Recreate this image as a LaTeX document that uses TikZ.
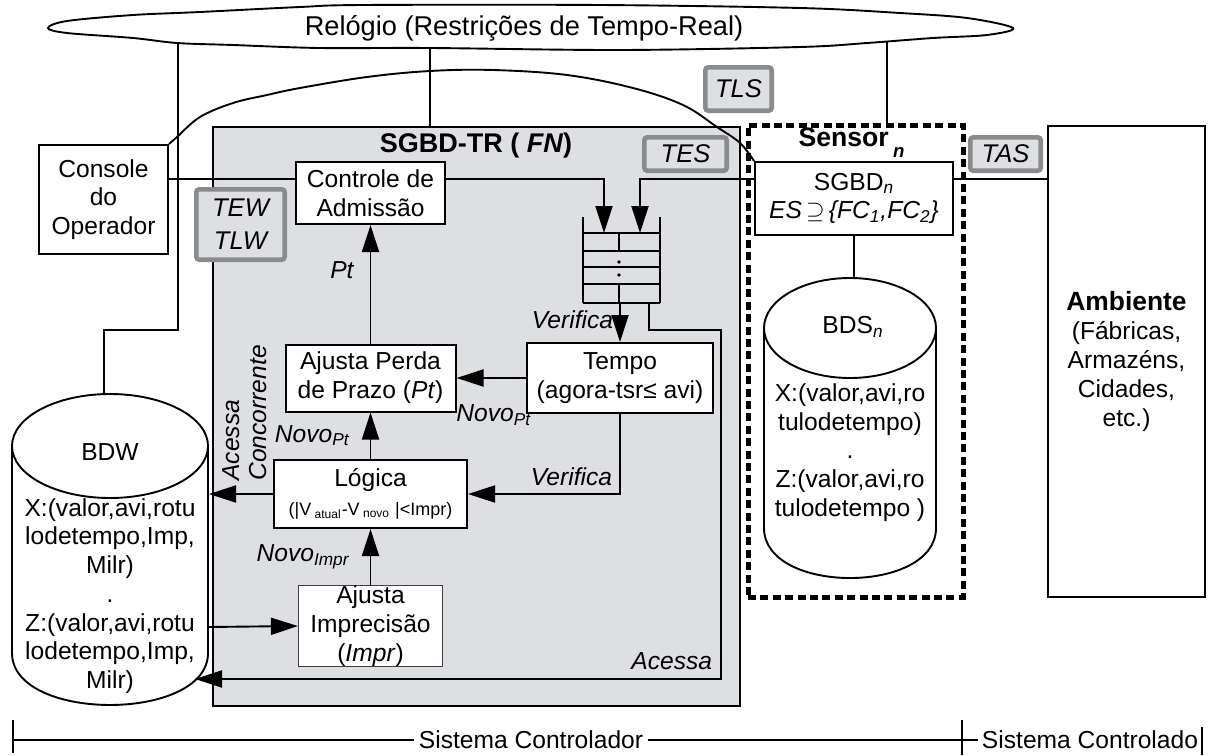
\documentclass[tikz,border=0pt]{standalone}
\usepackage{fontspec}
\setmainfont{Liberation Sans}
\usetikzlibrary{arrows.meta}
\definecolor{cinza}{RGB}{222,223,226}
\definecolor{borda}{RGB}{138,139,141}

\begin{document}
\begin{tikzpicture}[x=0.5pt,y=-0.5pt,
  every node/.style={font=\fontsize{12.3}{14.4}\selectfont},
  fio/.style={line width=0.95pt},
  seta/.style={fio,-{Triangle[length=13.5pt,width=8.5pt]}},
  caixa/.style={draw,line width=1pt,fill=white,align=center,inner sep=0pt},
  restr/.style={draw=borda,line width=2.3pt,fill=cinza,rounded corners=1.5pt,
    inner sep=0pt,align=center,font=\fontsize{12.8}{16.5}\selectfont\itshape},
  rotulo/.style={inner sep=0pt,font=\fontsize{12.3}{14.4}\selectfont\itshape}]
  \useasboundingbox (0,0) rectangle (1208,755);

  % Relogio
  \draw[fio,fill=white] plot[smooth cycle,tension=0.55] coordinates {(48,28) (67,21)
    (133,15) (200,12) (300,7) (363,5) (600,5) (800,8) (900,13) (967,18) (1013,28)
    (987,35) (933,38) (867,43) (800,47) (620,50) (430,48) (320,48) (233,45)
    (177,43) (133,38) (67,33)};
  \node[font=\fontsize{13.6}{16}\selectfont] (relogio) at (524,28)
    {Relógio (Restrições de Tempo-Real)};
  \coordinate (rel1) at (178,43);
  \coordinate (rel2) at (430,48);
  \coordinate (rel3) at (887,42);

  % SGBD-TR e sensor
  \node[draw,line width=1.1pt,fill=cinza,minimum width=263.5pt,minimum height=289.5pt]
    (sgbdtr) at (476.5,416.5) {};
  \node[font=\fontsize{13.5}{16}\selectfont\bfseries] (titulo) at (476,146)
    {SGBD-TR ( \textit{FN})};
  \node[draw,line width=2.5pt,dash pattern=on 4pt off 2.2pt,fill=white,
    minimum width=107.5pt,minimum height=236pt] (sensorbox) at (855.5,361) {};
  \node[font=\fontsize{13.3}{16}\selectfont\bfseries] (sensor) at (852,143)
    {Sensor\,\raisebox{-0.5ex}{\textsubscript{\textit{n}}}};
  \node[draw,line width=1pt,minimum width=78.5pt,minimum height=235.5pt,align=center,
    inner sep=0pt] (amb) at (1126.5,361.5)
    {{\fontsize{13.2}{15}\selectfont\bfseries Ambiente}\\(Fábricas,\\Armazéns,\\Cidades,\\etc.)};

  % Caixas
  \node[caixa,minimum width=64.5pt,minimum height=54.5pt] (console) at (103.5,199.5)
    {Console\\do\\Operador};
  \node[caixa,minimum width=74.5pt,minimum height=31pt] (ctrl) at (370.5,193)
    {Controle de\\Admissão};
  \node[caixa,minimum width=85pt,minimum height=33.5pt] (perda) at (370.5,378)
    {Ajusta Perda\\de Prazo (\textit{Pt})};
  \node[caixa,minimum width=93pt,minimum height=35pt] (tempo) at (620,378)
    {Tempo\\(agora-tsr≤ avi)};
  \node[caixa,minimum width=96.5pt,minimum height=34pt] (logica) at (370.5,494)
    {Lógica\\{\fontsize{9}{12.5}\selectfont (|V\textsubscript{ atual}-V\textsubscript{ novo} |<Impr)}};
  \node[caixa,draw=black!75,line width=0.6pt,minimum width=72pt,minimum height=40pt]
    (imprec) at (370.5,626) {Ajusta\\Imprecisão\\(\textit{Impr})};
  \node[caixa,minimum width=99pt,minimum height=36.5pt] (sgbdn) at (854,198.5)
    {SGBD\textsubscript{\textit{n}}\\\textit{ES}\,$\supseteq$\,\textit{\{FC\textsubscript{1},FC\textsubscript{2}\}}};
  \node[restr,minimum width=44.2pt,minimum height=35.2pt] (tew) at (240.5,224.5) {TEW\\TLW};
  \node[restr,minimum width=41.2pt,minimum height=16.7pt] (tes) at (685.5,154) {TES};
  \node[restr,minimum width=33.2pt,minimum height=21.7pt] (tls) at (738.5,89) {TLS};
  \node[restr,minimum width=35.2pt,minimum height=16.7pt] (tas) at (1005.5,154) {TAS};

  % Fila
  \draw[fio] (583,217) -- (583,303) (660,217) -- (660,303);
  \foreach \y in {233,251,267,284,303}
    \draw[fio] (583,\y) -- (660,\y);
  \draw[fio] (619,233) -- (619,251) (619,284) -- (619,303);
  \fill (619,262) circle (0.9pt) (619,275) circle (0.9pt);
  \coordinate (q1) at (604,233);
  \coordinate (q2) at (640,233);
  \coordinate (qs) at (620,303);
  \coordinate (qa) at (649,303);

  % Bancos de dados
  \draw[fio] (12,446) -- (12,653) .. controls (12,722.3) and (208,722.3) .. (208,653) -- (208,446);
  \draw[fio] (110,446) ellipse [x radius=98,y radius=52];
  \node (bdw) at (110,452) {BDW};
  \node[align=center,inner sep=0pt,font=\fontsize{12.3}{14.35}\selectfont] (bdwdados) at (110,596)
    {X:(valor,avi,rotu\\lodetempo,Imp,\\Milr)\\.\\Z:(valor,avi,rotu\\lodetempo,Imp,\\Milr)};
  \coordinate (bdwtopo) at (104,394);
  \coordinate (bdwd1) at (209,494);
  \coordinate (bdwd2) at (208,627);
  \coordinate (bdwacc) at (195,679);
  \draw[fio] (764,328) -- (764,528) .. controls (764,594.7) and (936,594.7) .. (936,528) -- (936,328);
  \draw[fio] (850,328) ellipse [x radius=86,y radius=50];
  \node (bds) at (853,327) {BDS\textsubscript{\textit{n}}};
  \node[align=center,inner sep=0pt,font=\fontsize{12.3}{14.35}\selectfont] (bdsdados) at (850,452.5)
    {X:(valor,avi,ro\\tulodetempo)\\.\\Z:(valor,avi,ro\\tulodetempo )};
  \coordinate (bdstopo) at (854,278);

  % Ligacoes
  \draw[fio] (rel1) |- (104,330) -- (bdwtopo);
  \draw[fio] (rel2) -- (rel2 |- sgbdtr.north);
  \draw[fio] (rel3) -- (rel3 |- sensorbox.north);
  \draw[fio] plot[smooth,tension=0.6] coordinates {(console.north east) (177,137) (200,117)
    (233,103) (267,95) (300,88) (367,77) (430,71) (493,70) (567,75) (633,88) (683,105)
    (717,127) (740,143) (sgbdn.north west)};
  \draw[fio] (console.east |- 0,179) -- (ctrl.west |- 0,179);
  \draw[seta] (ctrl.east |- 0,179) -| (q1);
  \draw[seta] (sgbdn.west |- 0,179) -| (q2);
  \draw[fio] (sgbdn.east |- 0,179) -- (amb.west |- 0,179);
  \draw[fio] (sgbdn.south) -- (bdstopo);
  \draw[seta] (qs) -- (tempo.north) node[rotulo,pos=0.42,left=3pt] {Verifica};
  \draw[seta] (tempo.west) -- (perda.east);
  \node[rotulo,anchor=west] (novopt2) at (456,415) {Novo\textsubscript{Pt}};
  \draw[seta] (tempo.south) |- (logica.east) node[rotulo,pos=0.5,above left=3.5pt] {Verifica};
  \draw[seta] (perda.north) -- (ctrl.south) node[rotulo,pos=0.62,left=8pt] {Pt};
  \draw[seta] (logica.north) -- (perda.south) node[rotulo,midway,left=10pt] {Novo\textsubscript{Pt}};
  \draw[seta] (imprec.north) -- (logica.south) node[rotulo,midway,left=10pt] {Novo\textsubscript{Impr}};
  \draw[seta] (logica.west) -- (bdwd1);
  \draw[seta] (bdwd2) -- (imprec.west);
  \draw[seta] (qa) |- (721,330) |- (bdwacc) node[rotulo,pos=0.5,above left=4pt] {Acessa};
  \node[rotulo,rotate=90,anchor=west,align=left,font=\fontsize{12.3}{13.5}\selectfont\itshape]
    (acessaconc) at (245,481) {Acessa\\Concorrente};

  % Escala
  \node[inner sep=2pt] (controlador) at (531,740) {Sistema Controlador};
  \node[inner sep=2pt] (controlado) at (1090,740) {Sistema Controlado};
  \draw[fio] (13,720) -- (13,753) (962,720) -- (962,755) (1202,727) -- (1202,755);
  \draw[fio] (13,740) -- (controlador.west);
  \draw[fio] (controlador.east) -- (962,740) -- (controlado.west);
\end{tikzpicture}
\end{document}
